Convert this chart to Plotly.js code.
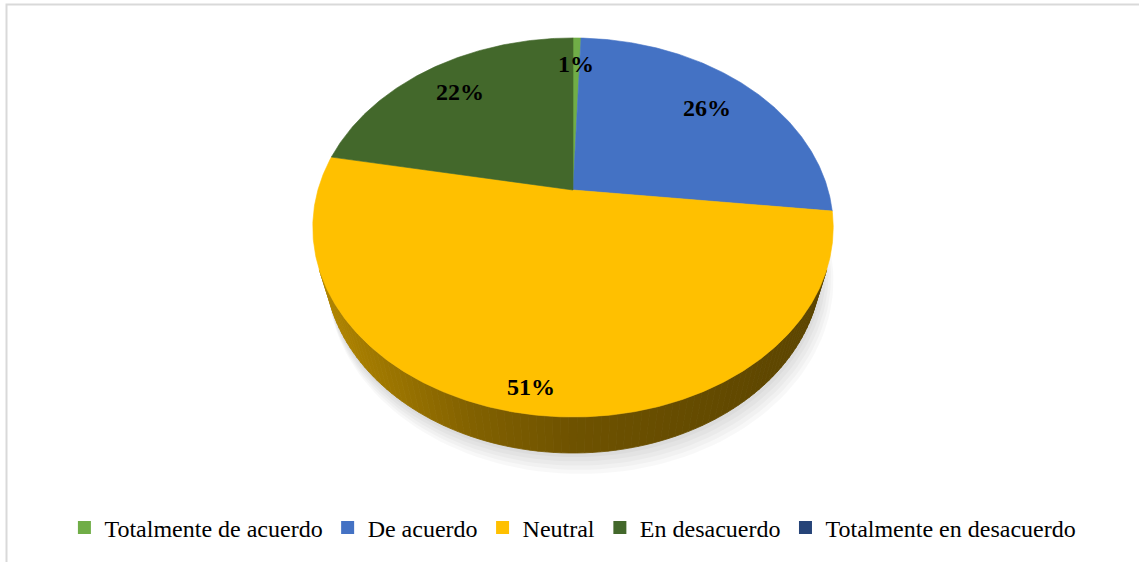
<!DOCTYPE html>
<html>
<head>
<meta charset="utf-8">
<script src="https://cdn.plot.ly/plotly-3.0.1.min.js"></script>
<style>html,body{margin:0;padding:0;background:#fff;}#chart{width:1139px;height:562px;}</style>
</head>
<body>
<div id="chart"></div>
<script>
// ---- data ----
const categories = ['Totalmente de acuerdo', 'De acuerdo', 'Neutral', 'En desacuerdo', 'Totalmente en desacuerdo'];
const values = [0.6, 26.2, 51.2, 22.0, 0];
const colors = ['#70AD47', '#4472C4', '#FFC000', '#43682B', '#264478'];

// ---- 3D projection of the pie (tilted disc seen in perspective) ----
const K = 903, D = 3.54, S = 0.714, C = 0.700, H = 0.23;
const LABEL_R = [0.80, 0.76, 0.90, 0.78, 0.78];
const SERIF = 'Times New Roman';
function proj(X, Y, Z) {
  const den = D - Y * S + Z * C;
  return [K * X / den, K * (Y * C + Z * S) / den];
}
function pt(rho, phi, Y) { return proj(rho * Math.sin(phi), Y, rho * Math.cos(phi)); }

// side shading: lighter on the left, darker to the right
const sideStops = [[0, [179, 135, 0]], [0.3, [130, 97, 0]], [0.5, [110, 82, 0]], [1, [91, 68, 0]]];
function sideColor(x) {
  const t = Math.min(1, Math.max(0, (x + 262) / 524));
  for (let i = 1; i < sideStops.length; i++) {
    if (t <= sideStops[i][0]) {
      const [t0, c0] = sideStops[i - 1], [t1, c1] = sideStops[i];
      const f = (t - t0) / (t1 - t0);
      const c = c0.map((v, k) => Math.round(v + (c1[k] - v) * f));
      return 'rgb(' + c.join(',') + ')';
    }
  }
  return 'rgb(91,68,0)';
}

const total = values.reduce((a, b) => a + b, 0);
const traces = [];
const DEG = Math.PI / 180;
const visMin = Math.acos(-1 / (D * C)), visMax = 2 * Math.PI - visMin;

// soft shadow under the disc
for (let L = 5; L >= 1; L--) {
  const xs = [], ys = [];
  for (let a = 60; a <= 300; a += 2) {
    const p = pt(1 + 0.006 * L, a * DEG, -H - 0.012 * L);
    xs.push(p[0] + 1.5 * L); ys.push(p[1] - 0.8 * L);
  }
  traces.push({x: xs, y: ys, mode: 'lines', fill: 'toself', fillcolor: 'rgba(0,0,0,0.028)',
    line: {width: 0}, hoverinfo: 'skip', showlegend: false});
}

// side walls (split into thin segments for shading)
let cum = 0;
const spans = values.map(v => { const a = cum / total * 2 * Math.PI; cum += v; return [a, cum / total * 2 * Math.PI]; });
spans.forEach((sp, i) => {
  if (values[i] <= 0) return;
  const a = Math.max(sp[0], visMin), b = Math.min(sp[1], visMax);
  if (b <= a) return;
  const nseg = Math.max(1, Math.ceil((b - a) / (1.5 * DEG)));
  for (let s = 0; s < nseg; s++) {
    const a0 = a + (b - a) * s / nseg, a1 = a + (b - a) * (s + 1) / nseg;
    const p1 = pt(1, a0, 0), p2 = pt(1, a1, 0), p3 = pt(1, a1, -H), p4 = pt(1, a0, -H);
    const col = sideColor((p1[0] + p2[0]) / 2);
    traces.push({x: [p1[0], p2[0], p3[0], p4[0], p1[0]], y: [p1[1], p2[1], p3[1], p4[1], p1[1]],
      mode: 'lines', fill: 'toself', fillcolor: col, line: {width: 0.8, color: col},
      hoverinfo: 'skip', showlegend: false});
  }
});

// top faces
spans.forEach((sp, i) => {
  if (values[i] <= 0) return;
  const [a, b] = sp;
  const xs = [0], ys = [0];
  const n = Math.max(2, Math.ceil((b - a) / (0.5 * DEG)));
  for (let k = 0; k <= n; k++) { const p = pt(1, a + (b - a) * k / n, 0); xs.push(p[0]); ys.push(p[1]); }
  xs.push(0); ys.push(0);
  traces.push({x: xs, y: ys, mode: 'lines', fill: 'toself', fillcolor: colors[i],
    line: {width: 0.6, color: colors[i]}, hoverinfo: 'skip', showlegend: false});
});

// data labels (annotations placed at data coordinates)
const annotations = [];
spans.forEach((sp, i) => {
  if (values[i] <= 0) return;
  const p = pt(LABEL_R[i], (sp[0] + sp[1]) / 2, 0);
  annotations.push({x: p[0], y: p[1], xref: 'x', yref: 'y', showarrow: false,
    text: '<b>' + Math.round(values[i] / total * 100) + '%</b>',
    font: {family: SERIF, size: 24, color: '#000'}});
});

// legend entries
categories.forEach((c, i) => {
  traces.push({x: [null], y: [null], mode: 'markers', name: c,
    marker: {symbol: 'square', size: 13, color: colors[i]}, hoverinfo: 'skip', showlegend: true});
});

const layout = {
  width: 1139, height: 562,
  margin: {l: 0, r: 0, t: 0, b: 0},
  paper_bgcolor: '#fff', plot_bgcolor: '#fff',
  font: {family: SERIF, color: '#000'},
  xaxis: {range: [-573, 566], visible: false, fixedrange: true},
  yaxis: {range: [-372, 190], visible: false, fixedrange: true},
  showlegend: true,
  annotations: annotations,
  legend: {orientation: 'h', x: 0.503, xanchor: 'center', y: 0.0605, yanchor: 'middle',
    font: {family: SERIF, size: 24, color: '#000'},
    itemwidth: 30, traceorder: 'normal', bgcolor: 'rgba(0,0,0,0)'},
  shapes: [{type: 'rect', xref: 'paper', yref: 'paper', x0: 6.5 / 1139, x1: 1.02, y0: -0.02, y1: 1 - 4.5 / 562,
    line: {color: '#D9D9D9', width: 2}, fillcolor: 'rgba(0,0,0,0)'}]
};
Plotly.newPlot('chart', traces, layout, {displayModeBar: false});
</script>
</body>
</html>
